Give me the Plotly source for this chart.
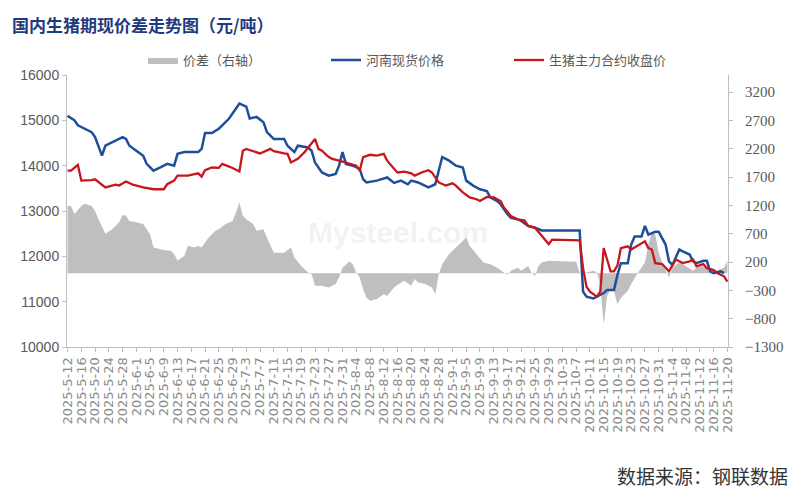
import plotly.graph_objects as go

# 价差（右轴）
spread_days = [
    "05-12", "05-13", "05-14", "05-16", "05-17", "05-19", "05-20", "05-21", "05-23", "05-25",
    "05-27", "05-28", "05-29", "05-30", "06-01", "06-03", "06-05", "06-06", "06-09", "06-11",
    "06-12", "06-13", "06-15", "06-16", "06-18", "06-19", "06-20", "06-22", "06-24", "06-25",
    "06-27", "06-29", "06-30", "07-01", "07-02", "07-03", "07-05", "07-06", "07-08", "07-09",
    "07-11", "07-14", "07-16", "07-17", "07-19", "07-21", "07-22", "07-23", "07-25", "07-27",
    "07-29", "07-30", "07-31", "08-02", "08-03", "08-04", "08-05", "08-06", "08-07", "08-08",
    "08-10", "08-12", "08-13", "08-15", "08-16", "08-18", "08-20", "08-21", "08-22", "08-24",
    "08-26", "08-27", "08-28", "08-29", "08-31", "09-02", "09-04", "09-05", "09-06", "09-08",
    "09-10", "09-12", "09-14", "09-16", "09-17", "09-18", "09-20", "09-21", "09-23", "09-24",
    "09-25", "09-26", "09-27", "09-29", "10-07", "10-08", "10-09", "10-10", "10-12", "10-13",
    "10-14", "10-15", "10-16", "10-17", "10-18", "10-19", "10-20", "10-22", "10-23", "10-25",
    "10-26", "10-27", "10-28", "10-29", "10-30", "10-31", "11-01", "11-02", "11-03", "11-04",
    "11-06", "11-07", "11-09", "11-10", "11-11", "11-13", "11-14", "11-15", "11-17", "11-19",
    "11-20",
]
spread = [
    1190, 1190, 1045, 1190, 1230, 1190, 1100, 955, 700, 780,
    900, 1030, 1015, 925, 900, 870, 690, 455, 410, 400,
    340, 220, 310, 485, 455, 485, 455, 630, 750, 780,
    870, 925, 1075, 1250, 1015, 955, 870, 750, 780, 630,
    365, 365, 455, 280, 130, 15, -15, -220, -220, -250,
    -190, -75, 100, 210, 160, 15, -75, -280, -430, -485,
    -455, -370, -400, -250, -200, -130, -220, -100, -160, -190,
    -250, -370, -15, 160, 340, 455, 575, 630, 485, 340,
    190, 160, 100, 15, -25, 45, 100, 45, 130, 15,
    -45, 130, 190, 220, 205, 15, -15, 15, 45, 15,
    -200, -900, -400, -280, -310, -545, -430, -310, -190, 15,
    100, 190, 515, 720, 690, 365, 190, 45, -75, 100,
    190, 160, 75, 45, 100, 130, 75, 75, 45, 100,
    220,
]

# 河南现货价格
spot_days = [
    "05-12", "05-14", "05-15", "05-17", "05-19", "05-20", "05-21", "05-22", "05-23", "05-25",
    "05-28", "05-29", "05-30", "06-01", "06-03", "06-04", "06-06", "06-08", "06-10", "06-12",
    "06-13", "06-15", "06-19", "06-20", "06-21", "06-23", "06-25", "06-26", "06-28", "06-29",
    "07-01", "07-03", "07-04", "07-06", "07-08", "07-09", "07-11", "07-14", "07-15", "07-17",
    "07-18", "07-21", "07-22", "07-23", "07-25", "07-27", "07-29", "07-30", "07-31", "08-01",
    "08-03", "08-05", "08-06", "08-07", "08-10", "08-13", "08-15", "08-17", "08-19", "08-20",
    "08-22", "08-25", "08-27", "08-29", "08-31", "09-02", "09-04", "09-05", "09-07", "09-09",
    "09-11", "09-12", "09-14", "09-15", "09-17", "09-18", "09-20", "09-21", "09-23", "09-25",
    "09-27", "10-08", "10-09", "10-10", "10-12", "10-13", "10-15", "10-16", "10-18", "10-19",
    "10-20", "10-22", "10-23", "10-24", "10-26", "10-27", "10-28", "10-30", "10-31", "11-02",
    "11-03", "11-04", "11-06", "11-07", "11-09", "11-10", "11-11", "11-13", "11-14", "11-15",
    "11-16", "11-18", "11-19",
]
spot_price = [
    15100, 15000, 14890, 14815, 14740, 14630, 14400, 14220, 14440, 14520,
    14630, 14590, 14440, 14330, 14220, 14040, 13890, 13960, 14040, 14000,
    14260, 14300, 14300, 14370, 14720, 14720, 14815, 14890, 15040, 15150,
    15370, 15300, 15040, 15075, 14960, 14740, 14590, 14590, 14440, 14300,
    14440, 14400, 14330, 14070, 13850, 13780, 13815, 14000, 14300, 14040,
    14000, 13930, 13700, 13630, 13670, 13740, 13620, 13670, 13590, 13670,
    13630, 13520, 13590, 14190, 14110, 14000, 13960, 13670, 13560, 13480,
    13440, 13300, 13220, 13150, 12930, 12850, 12815, 12780, 12670, 12630,
    12570, 12570, 11220, 11110, 11070, 11110, 11190, 11260, 11260, 11590,
    11850, 11850, 12260, 12440, 12440, 12670, 12480, 12540, 12540, 12260,
    11890, 11810, 12150, 12110, 12040, 11890, 11850, 11900, 11900, 11670,
    11630, 11670, 11630,
]

# 生猪主力合约收盘价
fut_days = [
    "05-12", "05-13", "05-15", "05-16", "05-19", "05-20", "05-23", "05-26", "05-27", "05-29",
    "05-31", "06-03", "06-06", "06-09", "06-10", "06-12", "06-13", "06-16", "06-19", "06-20",
    "06-21", "06-23", "06-25", "06-26", "06-28", "06-29", "07-01", "07-02", "07-03", "07-05",
    "07-07", "07-10", "07-11", "07-14", "07-15", "07-16", "07-18", "07-20", "07-22", "07-23",
    "07-24", "07-25", "07-27", "07-28", "07-30", "08-02", "08-04", "08-05", "08-06", "08-08",
    "08-10", "08-12", "08-13", "08-15", "08-16", "08-18", "08-20", "08-21", "08-23", "08-25",
    "08-26", "08-28", "08-30", "09-01", "09-02", "09-04", "09-06", "09-08", "09-09", "09-11",
    "09-13", "09-15", "09-16", "09-18", "09-20", "09-22", "09-23", "09-25", "09-27", "09-29",
    "09-30", "10-08", "10-09", "10-10", "10-11", "10-13", "10-14", "10-15", "10-16", "10-17",
    "10-18", "10-19", "10-20", "10-22", "10-23", "10-25", "10-27", "10-28", "10-29", "10-30",
    "11-01", "11-03", "11-05", "11-07", "11-09", "11-10", "11-11", "11-13", "11-14", "11-16",
    "11-17", "11-19", "11-20",
]
fut_price = [
    13890, 13890, 14020, 13670, 13680, 13700, 13520, 13580, 13560, 13650,
    13580, 13520, 13480, 13480, 13590, 13670, 13780, 13780, 13830, 13760,
    13900, 13960, 13950, 14040, 13980, 13950, 13870, 14330, 14370, 14320,
    14270, 14370, 14320, 14270, 14260, 14070, 14150, 14300, 14480, 14590,
    14370, 14330, 14190, 14150, 14110, 14040, 14000, 13890, 14190, 14240,
    14220, 14260, 14110, 13930, 13850, 13870, 13830, 13780, 13850, 13900,
    13850, 13630, 13560, 13610, 13560, 13410, 13300, 13260, 13220, 13310,
    13300, 13220, 13070, 12890, 12815, 12790, 12670, 12630, 12440, 12270,
    12370, 12350, 11740, 11330, 11220, 11110, 11220, 12180, 11930, 11670,
    11670, 11800, 12180, 12220, 12150, 12240, 12330, 12180, 12150, 11850,
    11830, 11670, 11930, 11850, 11890, 11930, 11780, 11830, 11740, 11700,
    11630, 11560, 11440,
]

assert len(spread_days) == len(spread)
assert len(spot_days) == len(spot_price)
assert len(fut_days) == len(fut_price)

axis_grey = "#BFBFBF"
text_grey = "#595959"

fig = go.Figure()
# 面积放在主轴上，折线放在叠加轴上，这样折线画在面积上面
fig.add_trace(go.Scatter(
    x=["2025-" + d for d in spread_days], y=spread, name="价差（右轴）",
    mode="lines", line=dict(width=0, color="#BFBFBF"),
    fill="tozeroy", fillcolor="#BFBFBF", yaxis="y",
))
fig.add_trace(go.Scatter(
    x=["2025-" + d for d in spot_days], y=spot_price, name="河南现货价格",
    mode="lines", line=dict(color="#1F4E9A", width=2.5), yaxis="y2",
))
fig.add_trace(go.Scatter(
    x=["2025-" + d for d in fut_days], y=fut_price, name="生猪主力合约收盘价",
    mode="lines", line=dict(color="#C8161D", width=2.3), yaxis="y2",
))

# 页面 body 默认有 8px 边距，所以图整体缩小 8px
fig.update_layout(
    width=792, height=490,
    margin=dict(l=59, r=72, t=67, b=151),
    paper_bgcolor="white", plot_bgcolor="white",
    font=dict(family="Noto Sans CJK SC", color=text_grey),
    title=dict(
        text="<b>国内生猪期现价差走势图（元/吨）</b>",
        x=0.005, xanchor="left", y=0.963, yanchor="middle",
        font=dict(family="Noto Sans CJK SC", size=17, color="#1F3B80"),
    ),
    legend=dict(
        orientation="h", x=0.115, xanchor="left", y=1.055, yanchor="middle",
        font=dict(size=13, color=text_grey), entrywidth=138, entrywidthmode="pixels",
        bgcolor="rgba(0,0,0,0)",
    ),
    xaxis=dict(
        type="date", range=["2025-05-11 20:00", "2025-11-20 04:00"],
        tick0="2025-05-12", dtick=4 * 86400000, tickformat="%Y-%-m-%-d",
        tickangle=-90, ticks="outside", ticklen=4, tickcolor=axis_grey,
        showline=True, linecolor=axis_grey, showgrid=False,
        tickfont=dict(family="DejaVu Sans", size=13, color="#8C8C8C"),
    ),
    yaxis=dict(
        side="right", range=[-1300, 3500], tick0=-1300, dtick=500,
        showline=True, linecolor=axis_grey, ticks="outside", ticklen=4, tickcolor=axis_grey,
        showgrid=False, zeroline=False, tickformat="d", ticklabelstandoff=9,
        tickfont=dict(family="Liberation Serif", size=15, color=text_grey),
    ),
    yaxis2=dict(
        overlaying="y", side="left", range=[10000, 16000], dtick=1000,
        showline=True, linecolor=axis_grey, ticks="outside", ticklen=4, tickcolor=axis_grey,
        showgrid=False, zeroline=False, tickformat="d",
        tickfont=dict(family="Liberation Sans", size=14, color=text_grey),
    ),
)

# 水印
fig.add_annotation(
    text="<b>Mysteel.com</b>", xref="paper", yref="paper", x=0.5, y=0.42,
    showarrow=False, font=dict(family="Liberation Sans", size=30, color="rgba(190,190,190,0.2)"),
)
fig.add_annotation(
    text="数据来源：钢联数据", xref="paper", yref="paper", x=1.094, y=-0.474,
    xanchor="right", yanchor="middle", showarrow=False,
    font=dict(family="Noto Sans CJK SC", size=19, color="#333333"),
)

fig.write_html("out.html")
